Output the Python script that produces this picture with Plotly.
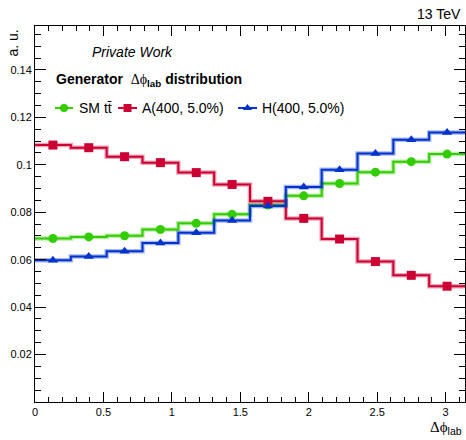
import numpy as np
import plotly.graph_objects as go

# Generator-level delta-phi (lab frame) shapes, normalised to unit area
n_bins = 12
x_lo, x_hi = 0.0, np.pi

sm_tt = [0.0689, 0.0696, 0.0701, 0.0727, 0.0753, 0.0791,
         0.0830, 0.0869, 0.0921, 0.0969, 0.1013, 0.1045]
a_400 = [0.1083, 0.1072, 0.1034, 0.1009, 0.0967, 0.0917,
         0.0846, 0.0774, 0.0687, 0.0592, 0.0534, 0.0488]
h_400 = [0.0598, 0.0613, 0.0636, 0.0670, 0.0713, 0.0765,
         0.0826, 0.0906, 0.0979, 0.1048, 0.1105, 0.1136]

labels = ["SM tt\u0304", "A(400, 5.0%)", "H(400, 5.0%)"]
colors = ["#33cc00", "#cc0033", "#0033cc"]
symbols = ["circle", "square", "triangle-up"]
series = [sm_tt, a_400, h_400]

x_ticks = [0, 0.5, 1, 1.5, 2, 2.5, 3]
y_ticks = [0.02, 0.04, 0.06, 0.08, 0.10, 0.12, 0.14]
y_tick_text = ["0.02", "0.04", "0.06", "0.08", "0.1", "0.12", "0.14"]

edges = np.linspace(x_lo, x_hi, n_bins + 1)
centers = 0.5 * (edges[:-1] + edges[1:])

FONT = "Liberation Sans, Arial, sans-serif"
W, H = 466, 440
ML, MR, MT, MB = 35, 1, 26, 38

fig = go.Figure()

for vals, col, sym in zip(series, colors, symbols):
    step_y = list(vals) + [vals[-1]]
    # soft band under the step outline
    fig.add_trace(go.Scatter(x=edges, y=step_y, mode="lines",
                             line=dict(color=col, width=4.5, shape="hv"),
                             opacity=0.35, hoverinfo="skip", showlegend=False))
    fig.add_trace(go.Scatter(x=edges, y=step_y, mode="lines",
                             line=dict(color=col, width=2, shape="hv"),
                             hoverinfo="skip", showlegend=False))
for vals, col, sym in zip(series, colors, symbols):
    fig.add_trace(go.Scatter(x=centers, y=vals, mode="markers",
                             marker=dict(color=col, symbol=sym, size=9,
                                         line=dict(width=0)),
                             showlegend=False))

# Legend glyphs drawn on a pixel-space overlay
leg_y = 108
leg_items = [(55, 73, 77), (118, 137, 140), (238, 257, 260)]
for (x0, x1, xt), col, sym, lab in zip(leg_items, colors, symbols, labels):
    fig.add_trace(go.Scatter(x=[x0, x1], y=[leg_y, leg_y], mode="lines",
                             line=dict(color=col, width=2), xaxis="x2", yaxis="y2",
                             hoverinfo="skip", showlegend=False))
    fig.add_trace(go.Scatter(x=[(x0 + x1) / 2], y=[leg_y], mode="markers",
                             marker=dict(color=col, symbol=sym, size=8),
                             xaxis="x2", yaxis="y2", hoverinfo="skip", showlegend=False))
    fig.add_annotation(x=xt, y=leg_y, xref="x2", yref="y2", text=lab,
                       showarrow=False, xanchor="left", yanchor="middle",
                       font=dict(family=FONT, size=14, color="black"))

axis_common = dict(showline=True, linecolor="black", linewidth=1, mirror="allticks",
                   ticks="inside", tickcolor="black", showgrid=False, zeroline=False,
                   tickfont=dict(family=FONT, size=11, color="black"))

fig.update_layout(
    width=W, height=H,
    margin=dict(l=ML, r=MR, t=MT, b=MB),
    paper_bgcolor="white", plot_bgcolor="white",
    showlegend=False,
    xaxis=dict(range=[x_lo, x_hi], tickvals=x_ticks,
               ticktext=[f"{v:g}" for v in x_ticks],
               ticklen=10, tickwidth=1,
               minor=dict(ticks="inside", ticklen=5, tickcolor="black",
                          tickvals=[round(0.1 * i, 1) for i in range(32)]),
               **axis_common),
    yaxis=dict(range=[0, 0.1585], tickvals=y_ticks, ticktext=y_tick_text,
               ticklen=11, tickwidth=1,
               minor=dict(ticks="inside", ticklen=6, tickcolor="black",
                          tickvals=[round(0.005 * i, 3) for i in range(32)]),
               **axis_common),
    xaxis2=dict(range=[ML, W - MR], overlaying="x", visible=False, fixedrange=True),
    yaxis2=dict(range=[H - MB, MT], overlaying="y", visible=False, fixedrange=True),
)

plot_w = W - ML - MR
plot_h = H - MT - MB


def px(x):
    return (x - ML) / plot_w


def py(y):
    return (H - MB - y) / plot_h


# delta-phi symbol: serif capital delta followed by the stroked phi form
DPHI = "<span style='font-family:Liberation Serif'>\u0394\u03d5</span>"

fig.add_annotation(x=px(463), y=py(14), xref="paper", yref="paper", text="13 TeV",
                   showarrow=False, xanchor="right", yanchor="middle",
                   font=dict(family=FONT, size=14, color="black"))
fig.add_annotation(x=px(12), y=py(28), xref="paper", yref="paper", text="a. u.",
                   textangle=-90, showarrow=False, xanchor="center", yanchor="top",
                   font=dict(family=FONT, size=14, color="black"))
fig.add_annotation(x=px(90), y=py(52), xref="paper", yref="paper",
                   text="<i>Private Work</i>", showarrow=False,
                   xanchor="left", yanchor="middle",
                   font=dict(family=FONT, size=14, color="black"))
fig.add_annotation(x=px(54), y=py(80), xref="paper", yref="paper",
                   text="<b>Generator</b>  " + DPHI +
                        "<sub><b>lab</b></sub> <b>distribution</b>",
                   showarrow=False, xanchor="left", yanchor="middle",
                   font=dict(family=FONT, size=14, color="black"))
fig.add_annotation(x=px(464), y=py(428), xref="paper", yref="paper",
                   text=DPHI + "<sub>lab</sub>",
                   showarrow=False, xanchor="right", yanchor="middle",
                   font=dict(family=FONT, size=15, color="black"))

fig.write_html("out.html")
